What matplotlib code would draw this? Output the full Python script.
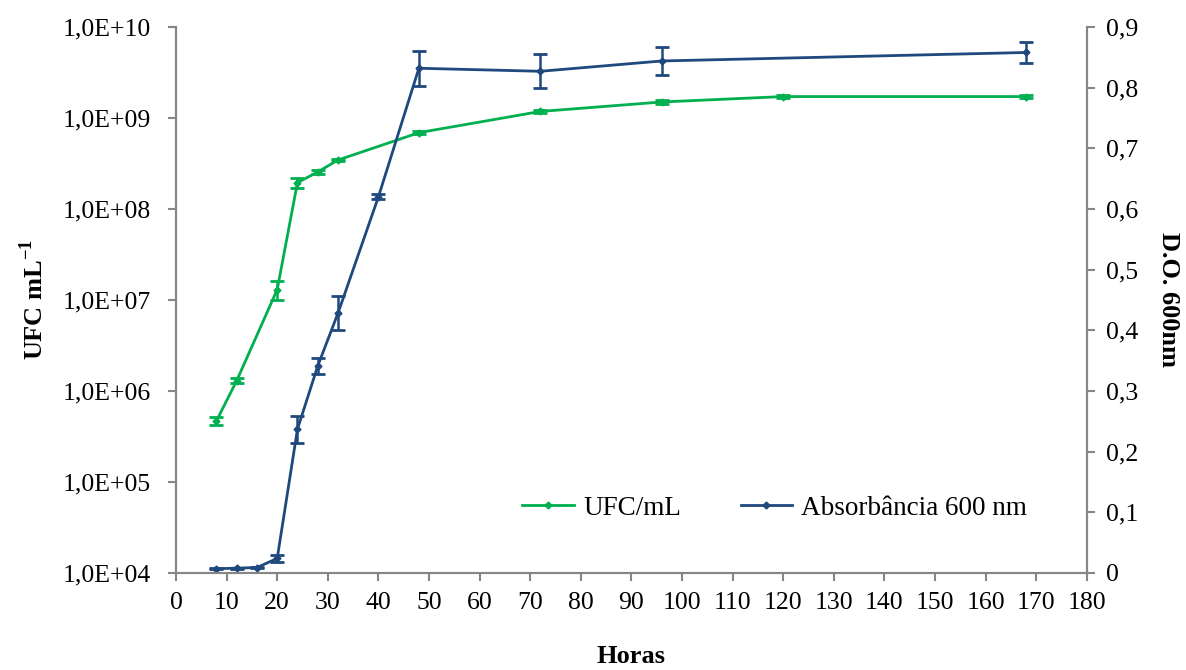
import numpy as np
import matplotlib
matplotlib.use("Agg")
import matplotlib.pyplot as plt
from matplotlib.lines import Line2D
from matplotlib.ticker import FixedLocator, FuncFormatter

plt.rcParams['font.family'] = ['Liberation Serif', 'DejaVu Serif']
plt.rcParams['mathtext.fontset'] = 'custom'
plt.rcParams['mathtext.rm'] = 'Liberation Serif'
plt.rcParams['mathtext.bf'] = 'Liberation Serif:bold'

# UFC/mL (left axis, log)
horas_ufc = [8, 12, 20, 24, 28, 32, 48, 72, 96, 120, 168]
ufc = [4.7e5, 1.3e6, 1.3e7, 1.95e8, 2.55e8, 3.45e8, 6.9e8, 1.18e9, 1.5e9, 1.72e9, 1.72e9]
ufc_err = [0.5e5, 0.08e6, 0.3e7, 0.25e8, 0.1e8, 0.1e8, 0.25e8, 0.04e9, 0.08e9, 0.05e9, 0.07e9]

# Absorbancia 600 nm (right axis)
horas_abs = [8, 12, 16, 20, 24, 28, 32, 40, 48, 72, 96, 168]
absorb = [0.007, 0.008, 0.009, 0.024, 0.237, 0.341, 0.428, 0.620, 0.832, 0.827, 0.844, 0.858]
abs_err = [0.001, 0.001, 0.001, 0.006, 0.022, 0.013, 0.028, 0.004, 0.029, 0.028, 0.023, 0.017]

green = '#00B050'
blue = '#1F497D'
grey = '#868686'

fig = plt.figure(figsize=(11.86, 6.70), dpi=100)
ax = fig.add_axes([0.1484, 0.1448, 0.768, 0.8149])
ax2 = ax.twinx()

ax.errorbar(horas_ufc, ufc, yerr=ufc_err, color=green, lw=2.0, marker='D', ms=3.5,
            capsize=5, capthick=2, elinewidth=1.8)
ax2.errorbar(horas_abs, absorb, yerr=abs_err, color=blue, lw=2.0, marker='D', ms=3.5,
             capsize=5, capthick=2, elinewidth=1.8)

ax.set_yscale('log')
ax.set_ylim(1e4, 1e10)
ax.yaxis.set_major_locator(FixedLocator([10.0 ** k for k in range(4, 11)]))
ax.yaxis.set_minor_locator(FixedLocator([]))
ax.yaxis.set_major_formatter(FuncFormatter(lambda v, p: '1,0E+%02d' % int(round(np.log10(v)))))
ax.set_xlim(0, 180)
ax.set_xticks(range(0, 181, 10))

ax2.set_ylim(0, 0.9)
ax2.set_yticks(np.arange(0, 0.91, 0.1))
ax2.yaxis.set_major_formatter(FuncFormatter(lambda v, p: '0' if abs(v) < 1e-9 else ('%.1f' % v).replace('.', ',')))

for a in (ax, ax2):
    a.spines['top'].set_visible(False)
    for s in ('left', 'right', 'bottom'):
        a.spines[s].set_color(grey)
        a.spines[s].set_linewidth(1.5)
    a.tick_params(axis='both', which='major', direction='out', length=6, width=1.5,
                  color=grey, labelsize=18.5, labelcolor='black')
ax.tick_params(axis='y', pad=12)
ax.tick_params(axis='x', pad=8)
ax2.tick_params(axis='y', pad=8)

ax.set_xlabel('Horas', fontsize=19, fontweight='bold', labelpad=22)
ax.set_ylabel('UFC mL$^{\\mathbf{-1}}$', fontsize=19, fontweight='bold', labelpad=11)
ax2.set_ylabel('D.O. 600nm', fontsize=19, fontweight='bold', rotation=-90, labelpad=30)

handles = [Line2D([], [], color=green, lw=2.0, marker='D', ms=3.5),
           Line2D([], [], color=blue, lw=2.0, marker='D', ms=3.5)]
ax2.legend(handles, ['UFC/mL', 'Absorbância 600 nm'], loc='center left',
           bbox_to_anchor=(0.380, 0.119), ncol=2, frameon=False, fontsize=19.5,
           handlelength=1.9, handletextpad=0.35, columnspacing=2.2, borderaxespad=0,
           borderpad=0)

fig.savefig('out.png', dpi=100)
